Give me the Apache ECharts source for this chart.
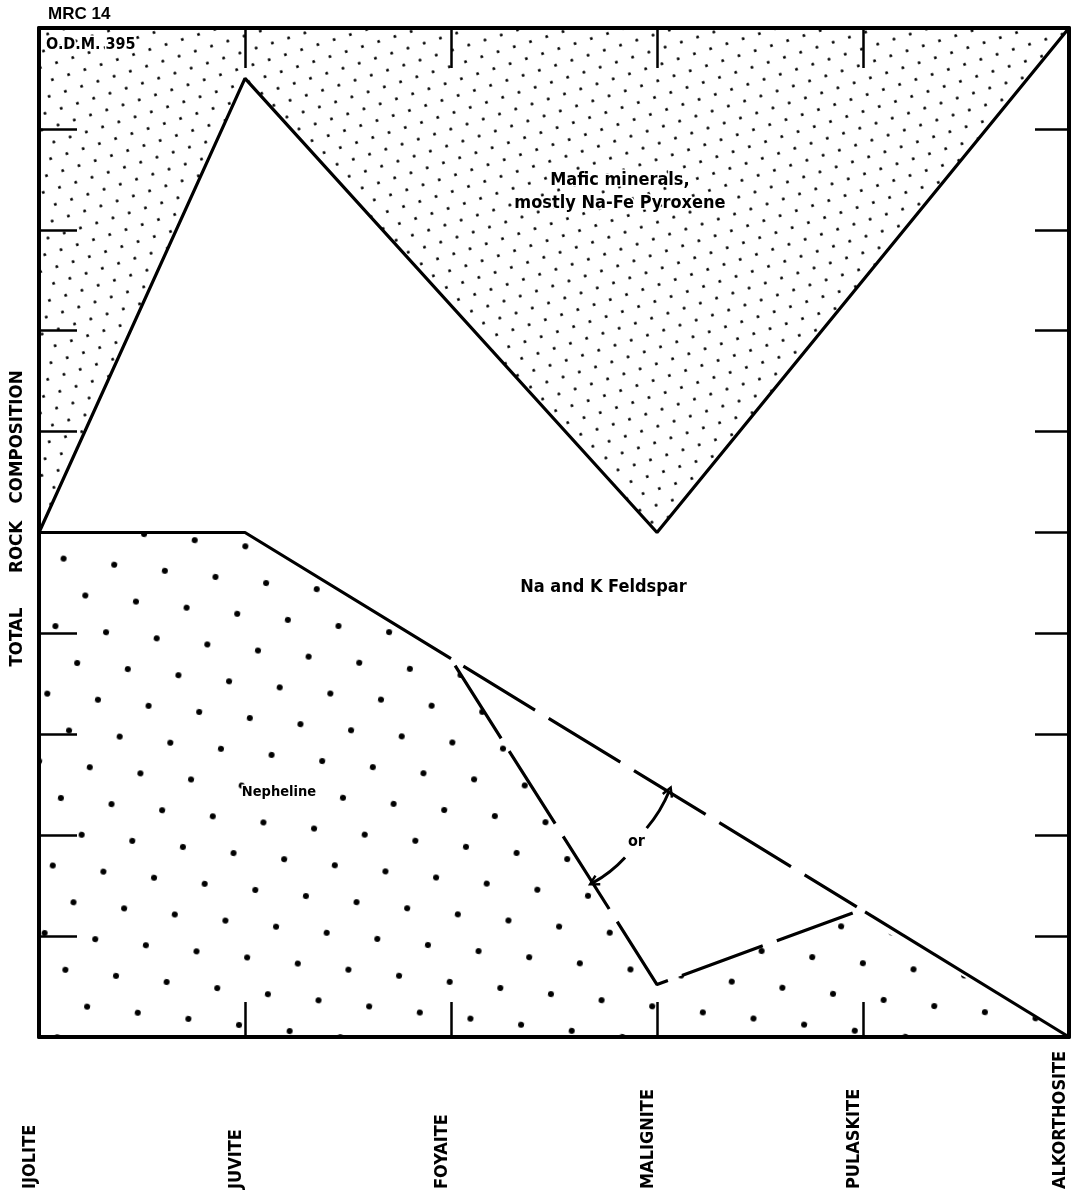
<!DOCTYPE html>
<html>
<head>
<meta charset="utf-8">
<title>MRC 14 - total rock composition</title>
<script src="https://cdn.jsdelivr.net/npm/echarts@6/dist/echarts.min.js"></script>
<style>
  html, body { margin: 0; padding: 0; background: #fff; }
  #chart { width: 1081px; height: 1204px; }
</style>
</head>
<body>
<div id="chart"></div>
<script>
// rock names, one per x position 0..5
var rockTypes = ['IJOLITE', 'JUVITE', 'FOYAITE', 'MALIGNITE', 'PULASKITE', 'ALKORTHOSITE'];

// mafic / feldspar boundary (% of total rock), mafic field lies above it
var maficEdge = [[0, 50], [1, 95], [3, 50], [5, 100]];

// outline of the dotted nepheline field
var nephelineField = [[0, 50], [1, 50], [2.02, 36.8], [3, 5.2], [3.95, 12.3], [5, 0]];

// nepheline / feldspar boundary, drawn solid - dashed - solid
var nephSolidLeft = [[0, 50], [1, 50], [2.0, 37.5]];
var nephDashed = [[2.06, 36.75], [3.97, 12.9]];
var nephSolidRight = [[4.01, 12.4], [5, 0]];

// alternative (dashed) boundary through malignite
var altBoundary = [[2.02, 36.8], [3, 5.2], [3.95, 12.3]];

// the two halves of the "or" arrow, each drawn from the lower end upward
var orArrowUp = [[2.95, 20.7], [3.06, 24.4]];
var orArrowDown = [[2.69, 15.3], [2.845, 17.8]];

// field names and where they sit (data units)
var fieldLabels = [
  { name: 'Mafic minerals,\nmostly Na-Fe Pyroxene', value: [2.82, 83.8] },
  { name: 'Na and K Feldspar', value: [2.74, 44.6] },
  { name: 'Nepheline', value: [1.165, 24.3] },
  { name: 'or', value: [2.9, 19.3] }
];
var labelSizes = [18, 18, 14.5, 16];

var FONT = "'Liberation Sans Narrow', 'DejaVu Sans Condensed', 'Liberation Sans', sans-serif";

var dom = document.getElementById('chart');
var chart = echarts.init(dom, null, { renderer: 'canvas' });

var fineDots = {
  symbol: 'circle', symbolSize: 1, color: '#000',
  dashArrayX: [[2.6, 13.4], [0, 8, 2.6, 5.4]],
  dashArrayY: [2.6, 11.4],
  rotation: -0.3
};
var coarseDots = {
  symbol: 'circle', symbolSize: 1, color: '#000',
  dashArrayX: [[5.5, 44.5], [0, 25, 5.5, 19.5]],
  dashArrayY: [5.5, 28],
  rotation: 0.12
};

var chevron = 'path://M5,0 L10,9 L8.2,10 L5,4 L1.8,10 L0,9 Z';

var option = {
  animation: false,
  backgroundColor: '#fff',
  title: [
    {
      text: 'MRC 14', left: 48, top: 6, padding: 0,
      textStyle: { fontFamily: "'Liberation Sans', sans-serif", fontSize: 17, fontWeight: 'bold', color: '#000' }
    },
    {
      text: 'O.D.M. 395', left: 46, top: 37, padding: 0, z: 12,
      textStyle: {
        fontFamily: FONT, fontSize: 16, fontWeight: 'bold', color: '#000',
        textBorderColor: '#fff', textBorderWidth: 3
      }
    }
  ],
  grid: { left: 39, right: 12, top: 28, bottom: 167, containLabel: false },
  xAxis: [
    {
      type: 'value', position: 'bottom', min: 0, max: 5, interval: 1, z: 10,
      axisLine: { show: true, lineStyle: { color: '#000', width: 4 } },
      axisTick: { show: true, inside: true, length: 35, lineStyle: { color: '#000', width: 2.5 } },
      splitLine: { show: false },
      axisLabel: {
        show: true, rotate: 90, align: 'left', verticalAlign: 'bottom', margin: 152,
        fontFamily: FONT, fontSize: 18, fontWeight: 'bold', color: '#000',
        formatter: function (v) { return rockTypes[v] || ''; }
      }
    },
    {
      type: 'value', position: 'top', min: 0, max: 5, interval: 1, z: 10,
      axisLine: { show: true, onZero: false, lineStyle: { color: '#000', width: 4 } },
      axisTick: { show: true, inside: true, length: 40, lineStyle: { color: '#000', width: 2.5 } },
      splitLine: { show: false },
      axisLabel: { show: false }
    }
  ],
  yAxis: [
    {
      type: 'value', position: 'left', min: 0, max: 100, interval: 10, z: 10,
      axisLine: { show: true, lineStyle: { color: '#000', width: 4 } },
      axisTick: { show: true, inside: true, length: 38, lineStyle: { color: '#000', width: 2.5 } },
      splitLine: { show: false },
      axisLabel: { show: false },
      name: 'TOTAL      ROCK   COMPOSITION',
      nameLocation: 'middle', nameRotate: 90, nameGap: 12,
      nameTextStyle: {
        fontFamily: FONT, fontSize: 18.5, fontWeight: 'bold', color: '#000',
        padding: [0, 0, 0, 28]
      }
    },
    {
      type: 'value', position: 'right', min: 0, max: 100, interval: 10, z: 10,
      axisLine: { show: true, onZero: false, lineStyle: { color: '#000', width: 4 } },
      axisTick: { show: true, inside: true, length: 34, lineStyle: { color: '#000', width: 2.5 } },
      splitLine: { show: false },
      axisLabel: { show: false }
    }
  ],
  series: [
    {
      // dotted mafic field (fills up to 100 %)
      name: 'mafic', type: 'line', data: maficEdge, symbol: 'none', silent: true, z: 1,
      lineStyle: { color: '#000', width: 3.2, decal: fineDots },
      itemStyle: { color: '#000', decal: fineDots },
      areaStyle: { origin: 'end', color: '#fff', opacity: 1 }
    },
    {
      // dotted nepheline field (fills down to 0 %)
      name: 'nepheline', type: 'line', data: nephelineField, symbol: 'none', silent: true, z: 1,
      lineStyle: { color: '#000', width: 0, decal: coarseDots },
      itemStyle: { color: '#000', decal: coarseDots },
      areaStyle: { origin: 'start', color: '#fff', opacity: 1 }
    },
    {
      type: 'line', data: nephSolidLeft, symbol: 'none', silent: true, z: 3,
      lineStyle: { color: '#000', width: 3.2 }
    },
    {
      type: 'line', data: nephDashed, symbol: 'none', silent: true, z: 3,
      lineStyle: { color: '#000', width: 3.2, type: [84, 16] }
    },
    {
      type: 'line', data: nephSolidRight, symbol: 'none', silent: true, z: 3,
      lineStyle: { color: '#000', width: 3.2 }
    },
    {
      type: 'line', data: altBoundary, symbol: 'none', silent: true, z: 3,
      lineStyle: { color: '#000', width: 3.2, type: [86, 15] }
    },
    {
      type: 'lines', coordinateSystem: 'cartesian2d', silent: true, z: 4,
      symbol: ['none', chevron], symbolSize: 12,
      lineStyle: { color: '#000', width: 3, opacity: 1, curveness: -0.08 },
      data: [{ coords: orArrowUp }]
    },
    {
      type: 'lines', coordinateSystem: 'cartesian2d', silent: true, z: 4,
      symbol: [chevron, 'none'], symbolSize: 12,
      lineStyle: { color: '#000', width: 3, opacity: 1, curveness: -0.08 },
      data: [{ coords: orArrowDown }]
    },
    {
      type: 'scatter', symbolSize: 1, silent: true, z: 5,
      itemStyle: { color: 'rgba(0,0,0,0)', opacity: 1 },
      label: {
        show: true, position: 'inside', formatter: '{b}',
        fontFamily: FONT, fontWeight: 'bold', color: '#000', lineHeight: 23,
        fontSize: 18, textBorderColor: '#fff', textBorderWidth: 3
      },
      data: fieldLabels.map(function (d, i) {
        return { name: d.name, value: d.value, label: { fontSize: labelSizes[i] } };
      })
    }
  ]
};

if (option && typeof option === 'object') {
  chart.setOption(option, true);
}

window.addEventListener('resize', function () {
  setTimeout(function () { chart.resize(); });
});
</script>
</body>
</html>
